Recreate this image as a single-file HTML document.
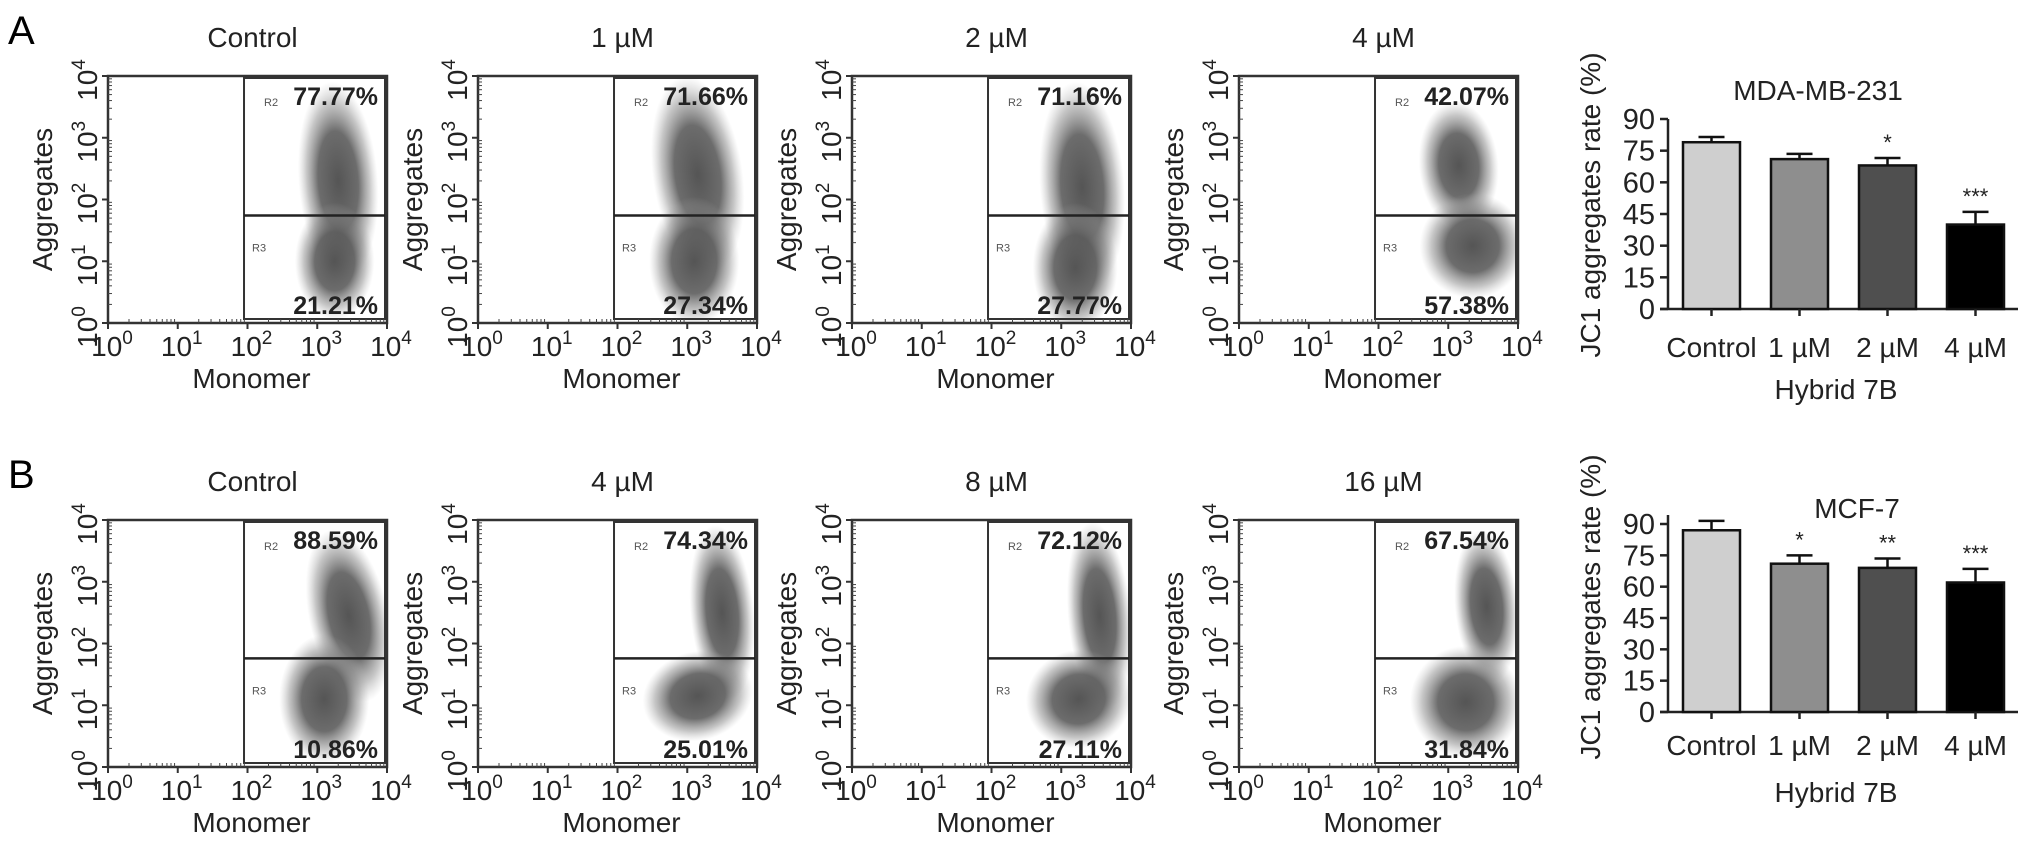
<!DOCTYPE html>
<html><head><meta charset="utf-8">
<style>
html,body{margin:0;padding:0;background:#fff;}
svg{display:block;font-family:"Liberation Sans",sans-serif;}
</style></head>
<body>
<svg id="fig" width="2032" height="858" viewBox="0 0 2032 858" xmlns="http://www.w3.org/2000/svg">
<defs>
<radialGradient id="blob" cx="50%" cy="50%" r="50%">
<stop offset="0" stop-color="#555" stop-opacity="1"/>
<stop offset="0.5" stop-color="#5c5c5c" stop-opacity="0.9"/>
<stop offset="0.78" stop-color="#808080" stop-opacity="0.45"/>
<stop offset="1" stop-color="#aaa" stop-opacity="0"/>
</radialGradient>
</defs>
<text x="8" y="44" font-size="40">A</text>
<text x="8" y="488" font-size="40">B</text>
<g id="plots"></g>
</svg>
<script>
// ---- flow cytometry data ----
const flowTitles = [["Control","1 µM","2 µM","4 µM"],["Control","4 µM","8 µM","16 µM"]];
const flowUpper = [["77.77%","71.66%","71.16%","42.07%"],["88.59%","74.34%","72.12%","67.54%"]];
const flowLower = [["21.21%","27.34%","27.77%","57.38%"],["10.86%","25.01%","27.11%","31.84%"]];
// clusters: [logX, logY, spreadX, spreadY, rotationDeg]
const clustersA = [
  [[3.3,2.3,0.3,0.85,-4],[3.25,1.0,0.3,0.5,0]],
  [[3.15,2.4,0.34,0.85,-8],[3.1,1.0,0.34,0.55,0]],
  [[3.3,2.2,0.32,0.9,-4],[3.2,0.9,0.32,0.55,0]],
  [[3.15,2.55,0.3,0.55,-5],[3.35,1.25,0.4,0.45,-25]]
];
const clustersB = [
  [[3.45,2.45,0.3,0.75,-12],[3.1,1.1,0.34,0.55,0]],
  [[3.5,2.5,0.24,0.75,-5],[3.15,1.15,0.42,0.38,-15]],
  [[3.55,2.45,0.24,0.8,-5],[3.25,1.1,0.4,0.42,-15]],
  [[3.55,2.6,0.24,0.65,-5],[3.25,1.05,0.42,0.48,-15]]
];
const flowClusters = [clustersA, clustersB];
const gateY = [[1.74,1.74,1.74,1.74],[1.76,1.76,1.76,1.76]];
const gateX = 1.95;
const decadeLabels = ["0","1","2","3","4"];

// ---- bar data ----
const barCats = ["Control","1 µM","2 µM","4 µM"];
const barTitles = ["MDA-MB-231","MCF-7"];
const barValsA = [79,71,68,40];
const barErrA = [2.5,2.5,3.5,6];
const barStarsA = ["","","*","***"];
const barValsB = [87,71,69,62];
const barErrB = [4.5,4,4.5,6.5];
const barStarsB = ["","*","**","***"];
const yTicks = [0,15,30,45,60,75,90];
const barFills = ["#cfcfcf","#8e8e8e","#4f4f4f","#000"];

const NS="http://www.w3.org/2000/svg";
const root=document.getElementById('plots');
function mk(tag,attrs,parent,txt){const e=document.createElementNS(NS,tag);for(const k in attrs)e.setAttribute(k,attrs[k]);if(txt!==undefined)e.textContent=txt;(parent||root).appendChild(e);return e;}

const plotLefts=[108,478,852,1239], plotW=279;
const rowTops=[76,520], plotH=247;

for(let r=0;r<2;r++){
 for(let c=0;c<4;c++){
  const L=plotLefts[c], T=rowTops[r], R=L+plotW, B=T+plotH;
  const sx=v=>L+v/4*plotW, sy=v=>B-v/4*plotH;
  const g=mk('g',{});
  
  
  const clipId='clip'+r+c;
  const cp=mk('clipPath',{id:clipId},g); mk('rect',{x:sx(gateX),y:T,width:R-sx(gateX),height:plotH},cp);
  const cg=mk('g',{'clip-path':'url(#'+clipId+')'},g);
  flowClusters[r][c].forEach((k,i)=>{
   const e=mk('ellipse',{cx:sx(k[0]),cy:sy(k[1]),rx:k[2]/4*plotW*1.9,ry:k[3]/4*plotH*1.9,fill:'url(#blob)',transform:`rotate(${k[4]} ${sx(k[0])} ${sy(k[1])})`},cg);
   
   
  });
  const fr=mk('rect',{x:L,y:T,width:plotW,height:plotH,fill:'none',stroke:'#333','stroke-width':2.5},g);
  
  const gate=mk('rect',{x:sx(gateX),y:T+2,width:R-2-sx(gateX),height:plotH-6,fill:'none',stroke:'#333','stroke-width':2},g);
  
  const gl=mk('line',{x1:sx(gateX),x2:R-2,y1:sy(gateY[r][c]),y2:sy(gateY[r][c]),stroke:'#222','stroke-width':2.5},g);
  
  for(let d=0;d<4;d++)for(let m=2;m<10;m++){const f=d+Math.log10(m);
   mk('line',{x1:sx(f),x2:sx(f),y1:B,y2:B-4,stroke:'#444','stroke-width':1},g);
   mk('line',{x1:L,x2:L+4,y1:sy(f),y2:sy(f),stroke:'#444','stroke-width':1},g);}
  decadeLabels.forEach((lab,i)=>{
   mk('line',{x1:sx(i),x2:sx(i),y1:B,y2:B+6,stroke:'#333','stroke-width':2},g);
   mk('line',{x1:L-6,x2:L,y1:sy(i),y2:sy(i),stroke:'#333','stroke-width':2},g);
   const xt=mk('text',{x:sx(i)+4,y:B+33,'font-size':28,'text-anchor':'middle',fill:'#222'},g);
   
   mk('tspan',{},xt,'10');mk('tspan',{dy:-12,'font-size':19},xt,lab);
   const yt=mk('text',{x:0,y:0,'font-size':28,'text-anchor':'middle',fill:'#222',transform:`translate(${L-11},${sy(i)+4}) rotate(-90)`},g);
   
   mk('tspan',{},yt,'10');mk('tspan',{dy:-12,'font-size':19},yt,lab);
  });
  const xl=mk('text',{x:L+plotW/2+4,y:B+65,'font-size':28,'text-anchor':'middle',fill:'#222'},g,'Monomer');
  
  const yl=mk('text',{x:0,y:0,'font-size':28,'text-anchor':'middle',fill:'#222',transform:`translate(${L-56},${T+plotH/2}) rotate(-90)`},g,'Aggregates');
  
  const tt=mk('text',{x:L+plotW/2+5,y:T-29,'font-size':28,'text-anchor':'middle',fill:'#222'},g,flowTitles[r][c]);
  
  const up=mk('text',{x:R-9,y:T+29,'font-size':25,'font-weight':'bold','text-anchor':'end',fill:'#222'},g,flowUpper[r][c]);
  
  const lo=mk('text',{x:R-9,y:B-9,'font-size':25,'font-weight':'bold','text-anchor':'end',fill:'#222'},g,flowLower[r][c]);
  
  const r2=mk('text',{x:sx(gateX)+20,y:T+30,'font-size':11,fill:'#555'},g,'R2');
  
  const r3=mk('text',{x:sx(gateX)+8,y:sy(gateY[r][c])+36,'font-size':11,fill:'#555'},g,'R3');
  
 }
}

// ---- bar charts ----
const barSets=[[barValsA,barErrA,barStarsA],[barValsB,barErrB,barStarsB]];
const barBase=[309,712], barTop90=[119,524], axisTopY=[119,515];
const titleY=[100,518], catY=[357,755], hybY=[399,802], yTitleC=[205,607];
const axX=1668, firstBar=1683, barStep=88, barW=57, axEnd=2018;
for(let r=0;r<2;r++){
 const [vals,errs,stars]=barSets[r];
 const y=v=>barBase[r]-v/90*(barBase[r]-barTop90[r]);
 const g=mk('g',{});
 
 
 const ax=mk('line',{x1:axX,x2:axX,y1:axisTopY[r],y2:barBase[r],stroke:'#222','stroke-width':2.5},g);
 
 const bx=mk('line',{x1:axX-8,x2:axEnd,y1:barBase[r],y2:barBase[r],stroke:'#222','stroke-width':2.5},g);
 
 yTicks.forEach(t=>{
  mk('line',{x1:axX-8,x2:axX,y1:y(t),y2:y(t),stroke:'#222','stroke-width':2.5},g);
  const tl=mk('text',{x:axX-13,y:y(t)+10,'font-size':29,'text-anchor':'end',fill:'#222'},g,String(t));
  
 });
 vals.forEach((v,i)=>{
  const x0=firstBar+i*barStep, cx=x0+barW/2;
  const b=mk('rect',{x:x0,y:y(v),width:barW,height:barBase[r]-y(v),fill:barFills[i],stroke:'#111','stroke-width':2.5},g);
  
  const et=y(v+errs[i]);
  const e1=mk('line',{x1:cx,x2:cx,y1:y(v),y2:et,stroke:'#111','stroke-width':2.5},g);
  
  mk('line',{x1:cx-13,x2:cx+13,y1:et,y2:et,stroke:'#111','stroke-width':2.5},g);
  mk('line',{x1:cx,x2:cx,y1:barBase[r],y2:barBase[r]+7,stroke:'#222','stroke-width':2.5},g);
  if(stars[i]){const s=mk('text',{x:cx,y:et-8,'font-size':22,'text-anchor':'middle',fill:'#222'},g,stars[i]);
   }
  const cl=mk('text',{x:cx,y:catY[r],'font-size':28,'text-anchor':'middle',fill:'#222'},g,barCats[i]);
  
 });
 const tt=mk('text',{x:r?1857:1818,y:titleY[r],'font-size':28,'text-anchor':'middle',fill:'#222'},g,barTitles[r]);
 
 const hx=mk('text',{x:1836,y:hybY[r],'font-size':28,'text-anchor':'middle',fill:'#222'},g,'Hybrid 7B');
 
 const yt=mk('text',{x:0,y:0,'font-size':28,'text-anchor':'middle',fill:'#222',transform:`translate(${1600},${yTitleC[r]}) rotate(-90)`},g,'JC1 aggregates rate (%)');
 
}
</script>
</body></html>
